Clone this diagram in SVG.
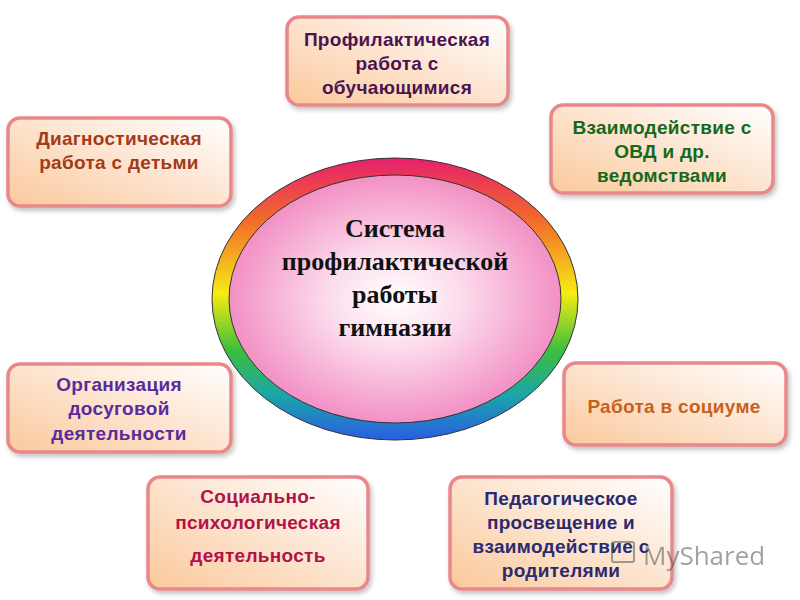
<svg xmlns="http://www.w3.org/2000/svg" width="800" height="600" viewBox="0 0 800 600">
<defs>
<linearGradient id="boxg" x1="0" y1="1" x2="1" y2="0">
<stop offset="0" stop-color="#fbc99c"/>
<stop offset="0.55" stop-color="#fde6d3"/>
<stop offset="1" stop-color="#ffffff"/>
</linearGradient>
<linearGradient id="ring" x1="0" y1="0" x2="0" y2="1">
<stop offset="0" stop-color="#e6206e"/>
<stop offset="0.22" stop-color="#f26a2a"/>
<stop offset="0.48" stop-color="#f7ec12"/>
<stop offset="0.68" stop-color="#3cbf3c"/>
<stop offset="0.84" stop-color="#1aa6a6"/>
<stop offset="1" stop-color="#2a5de6"/>
</linearGradient>
<radialGradient id="inner" cx="0.5" cy="0.5" r="0.5">
<stop offset="0" stop-color="#ffffff"/>
<stop offset="0.4" stop-color="#fcdcec"/>
<stop offset="1" stop-color="#f290c4"/>
</radialGradient>
<filter id="sh" x="-10%" y="-10%" width="125%" height="130%">
<feGaussianBlur in="SourceAlpha" stdDeviation="2.5"/>
<feOffset dx="2" dy="3"/>
<feComponentTransfer><feFuncA type="linear" slope="0.25"/></feComponentTransfer>
<feMerge><feMergeNode/><feMergeNode in="SourceGraphic"/></feMerge>
</filter>
</defs>
<style>
.box{fill:url(#boxg);stroke:#e8888a;stroke-width:3.5;filter:url(#sh)}
.t{font-family:"Liberation Sans",Arial,sans-serif;font-weight:bold;font-size:19px;letter-spacing:0.3px;text-anchor:middle}
.c{font-family:"Liberation Serif","Times New Roman",serif;font-weight:bold;font-size:26px;text-anchor:middle;fill:#111}
</style>
<rect width="800" height="600" fill="#ffffff"/>

<g id="center">
<ellipse cx="395" cy="299" rx="183" ry="141" fill="url(#ring)" stroke="#333" stroke-width="1"/>
<ellipse cx="395" cy="299" rx="166" ry="124" fill="url(#inner)" stroke="#333" stroke-width="1"/>
<text class="c" x="395" y="237">Система</text>
<text class="c" x="395" y="270">профилактической</text>
<text class="c" x="395" y="303">работы</text>
<text class="c" x="395" y="336">гимназии</text>
</g>

<g id="n1">
<rect class="box" x="287" y="17" width="221" height="88" rx="12"/>
<text class="t" x="397" y="46" fill="#4a1450">Профилактическая</text>
<text class="t" x="397" y="70" fill="#4a1450">работа с</text>
<text class="t" x="397" y="94" fill="#4a1450">обучающимися</text>
</g>

<g id="n2">
<rect class="box" x="8" y="118" width="223" height="88" rx="12"/>
<text class="t" x="119" y="145" fill="#a33a18">Диагностическая</text>
<text class="t" x="119" y="169" fill="#a33a18">работа с детьми</text>
</g>

<g id="n3">
<rect class="box" x="551" y="105" width="222" height="88" rx="12"/>
<text class="t" x="662" y="134" fill="#14691c">Взаимодействие с</text>
<text class="t" x="662" y="158" fill="#14691c">ОВД и др.</text>
<text class="t" x="662" y="182" fill="#14691c">ведомствами</text>
</g>

<g id="n4">
<rect class="box" x="8" y="364" width="223" height="88" rx="12"/>
<text class="t" x="119" y="391" fill="#5a2a9e">Организация</text>
<text class="t" x="119" y="415" fill="#5a2a9e">досуговой</text>
<text class="t" x="119" y="440" fill="#5a2a9e">деятельности</text>
</g>

<g id="n5">
<rect class="box" x="564" y="363" width="222" height="82" rx="12"/>
<text class="t" x="674" y="413" fill="#c8601c">Работа в социуме</text>
</g>

<g id="n6">
<rect class="box" x="148" y="477" width="220" height="112" rx="12"/>
<text class="t" x="258" y="503" fill="#b0124a">Социально-</text>
<text class="t" x="258" y="529" fill="#b0124a">психологическая</text>
<text class="t" x="258" y="562" fill="#b0124a">деятельность</text>
</g>

<g id="n7">
<rect class="box" x="450" y="477" width="222" height="112" rx="12"/>
<text class="t" x="561" y="505" fill="#2a2a6e">Педагогическое</text>
<text class="t" x="561" y="529" fill="#2a2a6e">просвещение и</text>
<text class="t" x="561" y="553" fill="#2a2a6e">взаимодействие с</text>
<text class="t" x="561" y="577" fill="#2a2a6e">родителями</text>
</g>

<g id="connectors"></g>

<g id="watermark" opacity="0.55">
<rect x="612" y="542" width="22" height="20" rx="2" fill="none" stroke="#555" stroke-width="2"/>
<text x="643" y="565" font-family="'Open Sans','Liberation Sans',sans-serif" font-size="26" fill="#555">MyShared</text>
</g>
</svg>
